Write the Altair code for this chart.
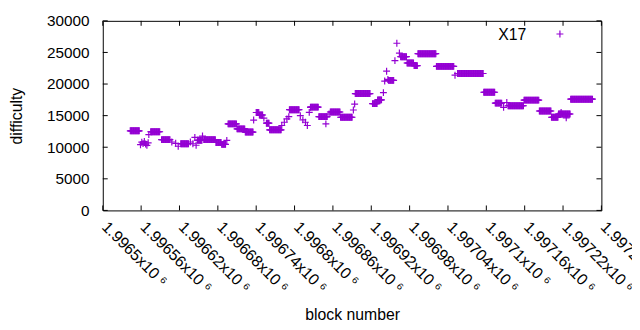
import altair as alt
import pandas as pd

series_name = "X17"
x_title = "block number"
y_title = "difficulty"

# runs of consecutive blocks sharing one difficulty (start block, end block, value)
run_start = [1996543, 1996575, 1996592, 1996622, 1996648, 1996658, 1996677, 1996686,
             1996696, 1996710, 1996723, 1996740, 1996745, 1996756, 1996761, 1996792,
             1996825, 1996838, 1996856, 1996872, 1996895, 1996922, 1996930, 1996947,
             1996966, 1996976, 1996987, 1996993, 1997022, 1997055, 1997096, 1997114,
             1997134, 1997159, 1997183, 1997202, 1997213, 1997232]
run_end = [1996557, 1996589, 1996605, 1996634, 1996655, 1996676, 1996685, 1996692,
           1996709, 1996722, 1996735, 1996744, 1996750, 1996760, 1996779, 1996807,
           1996837, 1996851, 1996871, 1996890, 1996918, 1996929, 1996936, 1996955,
           1996975, 1996986, 1996992, 1997021, 1997049, 1997095, 1997113, 1997124,
           1997158, 1997182, 1997201, 1997212, 1997231, 1997266]
run_value = [12600, 12450, 11200, 10550, 11100, 11200, 10750, 10450,
             13700, 12900, 12400, 15500, 15100, 13800, 12760, 15940,
             16350, 14840, 15570, 14740, 18490, 16900, 17500, 20580,
             24330, 23330, 22920, 24800, 22800, 21670, 18700, 16980,
             16560, 17450, 15730, 14740, 15260, 17600]

# isolated blocks
single_block = [1996559, 1996561, 1996563, 1996565, 1996567, 1996569, 1996571, 1996572,
                1996608, 1996614, 1996618, 1996637, 1996641, 1996644, 1996646, 1996656,
                1996694, 1996736, 1996752, 1996780, 1996784, 1996788, 1996791,
                1996809, 1996813, 1996817, 1996820, 1996823, 1996825, 1996849, 1996854,
                1996892, 1996894, 1996939, 1996941, 1996944, 1996946,
                1996957, 1996960, 1996964, 1997051, 1997127, 1997132, 1997217, 1997225]
single_value = [10400, 10800, 10600, 10900, 10500, 10300, 10700, 12000,
                10830, 10620, 10150, 10830, 10550, 11560, 10310, 11770,
                11090, 14300, 14600, 13440, 13950, 14480, 14840,
                15000, 14330, 13950, 13440, 15520, 16300, 13700, 15260,
                15890, 16830, 18640, 20470, 22030, 20730,
                23700, 26450, 24900, 21400, 16300, 17080, 15520, 14640]

x_tick_values = [1996500, 1996560, 1996620, 1996680, 1996740, 1996800, 1996860,
                 1996920, 1996980, 1997040, 1997100, 1997160, 1997220, 1997280]
y_tick_values = [0, 5000, 10000, 15000, 20000, 25000, 30000]
x_domain = [1996500, 1997280]
y_domain = [0, 30000]

blocks, values = [], []
for s, e, v in zip(run_start, run_end, run_value):
    for b in range(s, e + 1):
        blocks.append(b)
        values.append(v)
for b, v in zip(single_block, single_value):
    blocks.append(b)
    values.append(v)
df = pd.DataFrame({"block": blocks, "difficulty": values})

W, H = 505, 192
PURPLE = "#9400d3"
FONT = "Liberation Sans"
CROSS = "M-1,0L1,0M0,-1L0,1"
TICK_FS = 15.5
TITLE_FS = 16

xscale = alt.Scale(domain=x_domain, nice=False, zero=False)
yscale = alt.Scale(domain=y_domain, nice=False, zero=False)

x_axis = alt.Axis(
    values=x_tick_values, labelAngle=45, labelAlign="left", labelBaseline="top",
    labelPadding=8, labelOffset=7, labelFontSize=16,
    labelExpr="format(datum.value / 1e6, '~g') + 'x10 ⁶'",
    ticks=False, domain=False, grid=False, labelOverlap=False, labelFlush=False,
    title=x_title, titleY=110, titleBaseline="alphabetic")
y_axis = alt.Axis(
    values=y_tick_values, format="d", ticks=False, domain=False, grid=False,
    labelPadding=14, labelOverlap=False, labelFlush=False,
    title=y_title, titleX=-87, titleY=96, titleAlign="center",
    titleBaseline="middle", titleAngle=270)

points = alt.Chart(df).mark_point(
    shape=CROSS, filled=False, size=49, strokeWidth=1.2, color=PURPLE, opacity=1
).encode(
    x=alt.X("block:Q", scale=xscale, axis=x_axis),
    y=alt.Y("difficulty:Q", scale=yscale, axis=y_axis),
)

yt = pd.DataFrame({"difficulty": y_tick_values})
xt = pd.DataFrame({"block": x_tick_values})
tick_left = alt.Chart(yt).mark_rule(color="black", strokeWidth=1).encode(
    y=alt.Y("difficulty:Q", scale=yscale, axis=y_axis), x=alt.value(0), x2=alt.value(5))
tick_right = alt.Chart(yt).mark_rule(color="black", strokeWidth=1).encode(
    y=alt.Y("difficulty:Q", scale=yscale, axis=y_axis), x=alt.value(W - 5), x2=alt.value(W))
tick_bottom = alt.Chart(xt).mark_rule(color="black", strokeWidth=1).encode(
    x=alt.X("block:Q", scale=xscale, axis=x_axis), y=alt.value(H - 5), y2=alt.value(H))
tick_top = alt.Chart(xt).mark_rule(color="black", strokeWidth=1).encode(
    x=alt.X("block:Q", scale=xscale, axis=x_axis), y=alt.value(0), y2=alt.value(5))

leg = pd.DataFrame({"name": [series_name]})
legend_text = alt.Chart(leg).mark_text(
    align="right", baseline="middle", font=FONT, fontSize=TITLE_FS, color="black"
).encode(text="name:N", x=alt.value(429), y=alt.value(14.5))
legend_sym = alt.Chart(leg).mark_point(
    shape=CROSS, filled=False, size=49, strokeWidth=1.2, color=PURPLE, opacity=1
).encode(x=alt.value(463), y=alt.value(13.3))

chart = alt.layer(
    tick_left, tick_right, tick_bottom, tick_top, points, legend_text, legend_sym
).properties(
    width=W, height=H,
    autosize=alt.AutoSizeParams(type="none"),
    padding={"left": 96, "top": 11, "right": 31, "bottom": 111},
).configure_view(
    stroke="black", strokeWidth=1
).configure_axis(
    labelFont=FONT, labelFontSize=TICK_FS, labelColor="black", labelOverlap=False,
    titleFont=FONT, titleFontSize=TITLE_FS, titleColor="black", titleFontWeight="normal",
)

chart.save("out.html", embed_options={"renderer": "svg", "actions": False})
